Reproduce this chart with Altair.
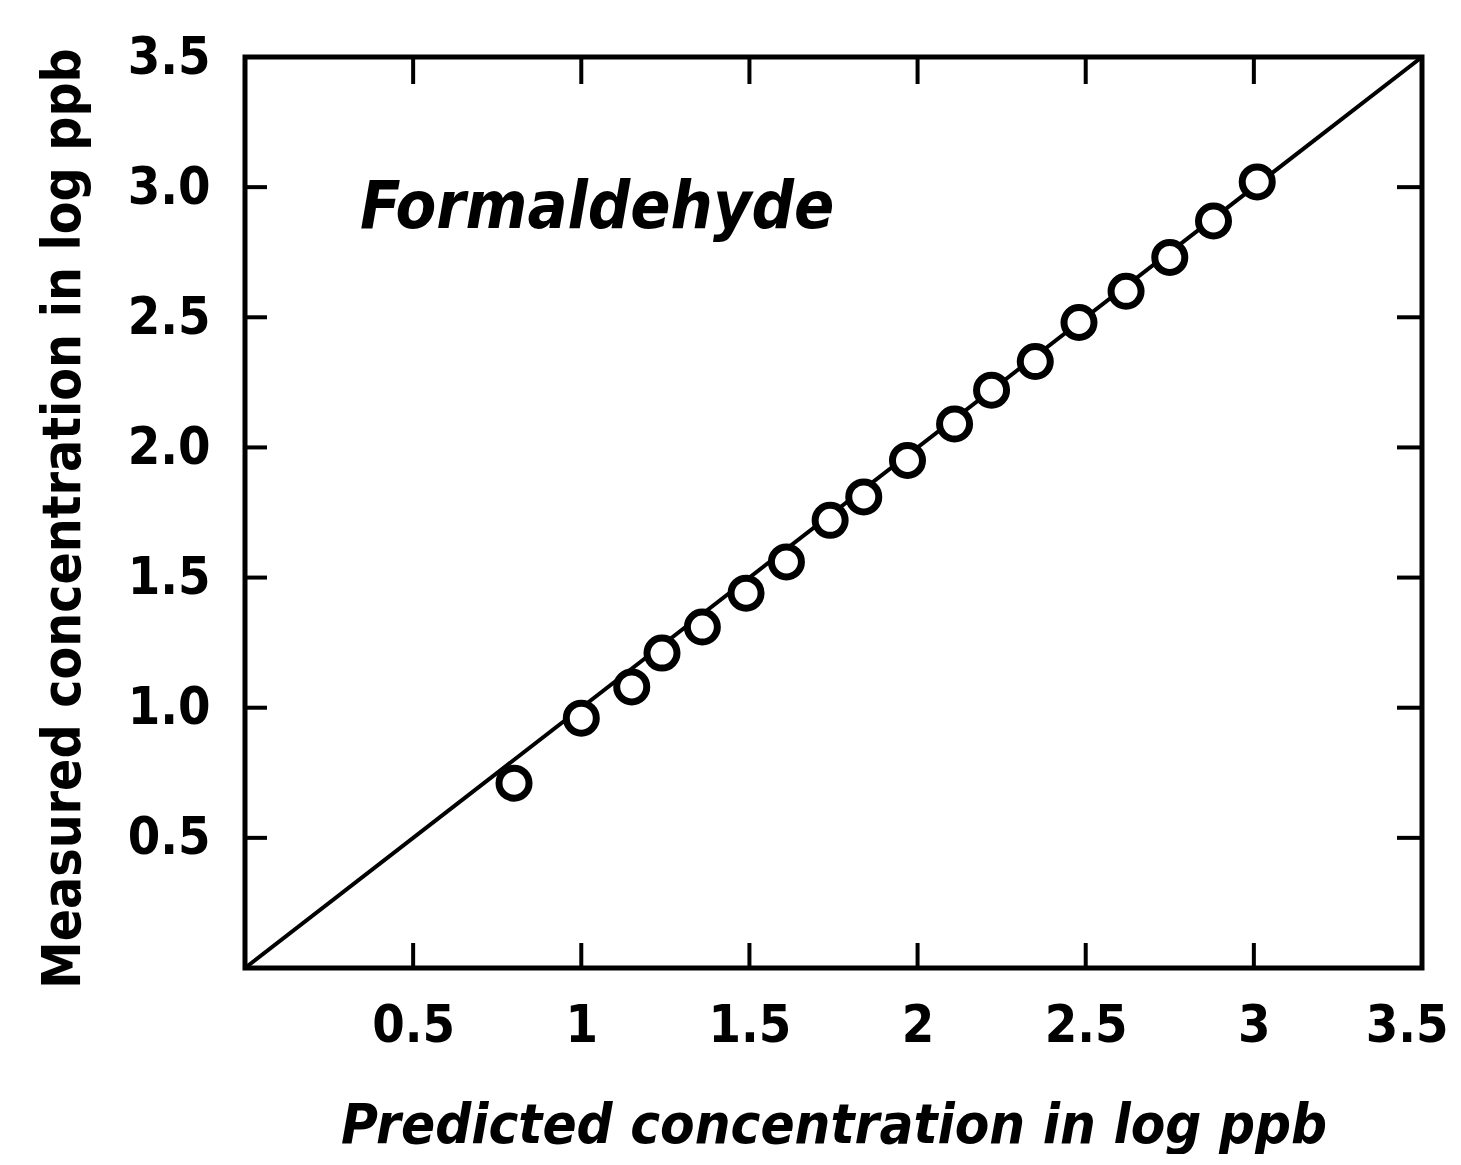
import altair as alt
import pandas as pd

# Data
pred_x = [0.80, 1.00, 1.15, 1.24, 1.36, 1.49, 1.61, 1.74, 1.84, 1.97, 2.11, 2.22, 2.35, 2.48, 2.62, 2.75, 2.88, 3.01]
meas_y = [0.71, 0.96, 1.08, 1.21, 1.31, 1.44, 1.56, 1.72, 1.81, 1.95, 2.09, 2.22, 2.33, 2.48, 2.60, 2.73, 2.87, 3.02]
line_x = [0.0, 3.5]
line_y = [0.0, 3.5]
x_tick_values = [0.5, 1, 1.5, 2, 2.5, 3, 3.5]
y_tick_values = [0.5, 1.0, 1.5, 2.0, 2.5, 3.0, 3.5]
inner_x_ticks = [0.5, 1, 1.5, 2, 2.5, 3]
inner_y_ticks = [0.5, 1.0, 1.5, 2.0, 2.5, 3.0]
label_text = "Formaldehyde"
x_title = "Predicted concentration in log ppb"
y_title = "Measured concentration in log ppb"

W, H = 1177, 911
FONT = "DejaVu Sans Condensed"

pts = pd.DataFrame({"x": pred_x, "y": meas_y})
ln = pd.DataFrame({"x": line_x, "y": line_y})
xt = pd.DataFrame({"x": inner_x_ticks})
yt = pd.DataFrame({"y": inner_y_ticks})

xs = alt.Scale(domain=[0, 3.5], nice=False, zero=False)
ys = alt.Scale(domain=[0, 3.5], nice=False, zero=False)

x_axis = alt.Axis(values=x_tick_values, ticks=False, domain=False, grid=False,
                  labelExpr="'' + datum.value", labelFont=FONT, labelFontSize=52,
                  labelFontWeight="bold", labelColor="black", labelPadding=32,
                  labelOverlap=False, labelFlush=True, labelFlushOffset=26,
                  titleFont=FONT, titleFontSize=56, titleFontStyle="italic",
                  titleFontWeight="bold", titleColor="black",
                  titleBaseline="alphabetic", titleY=174)
y_axis = alt.Axis(values=y_tick_values, ticks=False, domain=False, grid=False,
                  format=".1f", labelFont=FONT, labelFontSize=52,
                  labelFontWeight="bold", labelColor="black", labelPadding=35,
                  labelOverlap=False, labelFlush=False,
                  titleFont=FONT, titleFontSize=53,
                  titleFontWeight="bold", titleColor="black",
                  titleBaseline="alphabetic", titleX=-166, titleY=461)


def X():
    return alt.X("x:Q", scale=xs, axis=x_axis, title=x_title)


def Y():
    return alt.Y("y:Q", scale=ys, axis=y_axis, title=y_title)


line = alt.Chart(ln).mark_line(color="black", strokeWidth=4).encode(x=X(), y=Y())

points = alt.Chart(pts).mark_circle(fill="white", stroke="black", strokeWidth=7,
                                    size=900, opacity=1, fillOpacity=1).encode(x=X(), y=Y())

tick_bottom = alt.Chart(xt).mark_rule(color="black", strokeWidth=4).encode(
    x=X(), y=alt.value(H), y2=alt.value(H - 25))
tick_top = alt.Chart(xt).mark_rule(color="black", strokeWidth=4).encode(
    x=X(), y=alt.value(0), y2=alt.value(27))
tick_left = alt.Chart(yt).mark_rule(color="black", strokeWidth=4).encode(
    y=Y(), x=alt.value(0), x2=alt.value(22))
tick_right = alt.Chart(yt).mark_rule(color="black", strokeWidth=4).encode(
    y=Y(), x=alt.value(W), x2=alt.value(W - 25))

label = alt.Chart(pd.DataFrame({"t": [label_text]})).mark_text(
    font=FONT, fontSize=66, fontStyle="italic", fontWeight="bold", align="left",
    baseline="alphabetic", color="black").encode(
    text="t:N", x=alt.value(115), y=alt.value(171))

chart = alt.layer(line, points, tick_bottom, tick_top, tick_left, tick_right, label).properties(
    width=W, height=H,
    autosize=alt.AutoSizeParams(type="none"),
    padding={"left": 237, "top": 49, "right": 28, "bottom": 186},
    background="white",
).configure_view(stroke="black", strokeWidth=5)

chart.save("out.html", embed_options={"renderer": "svg", "actions": False})
